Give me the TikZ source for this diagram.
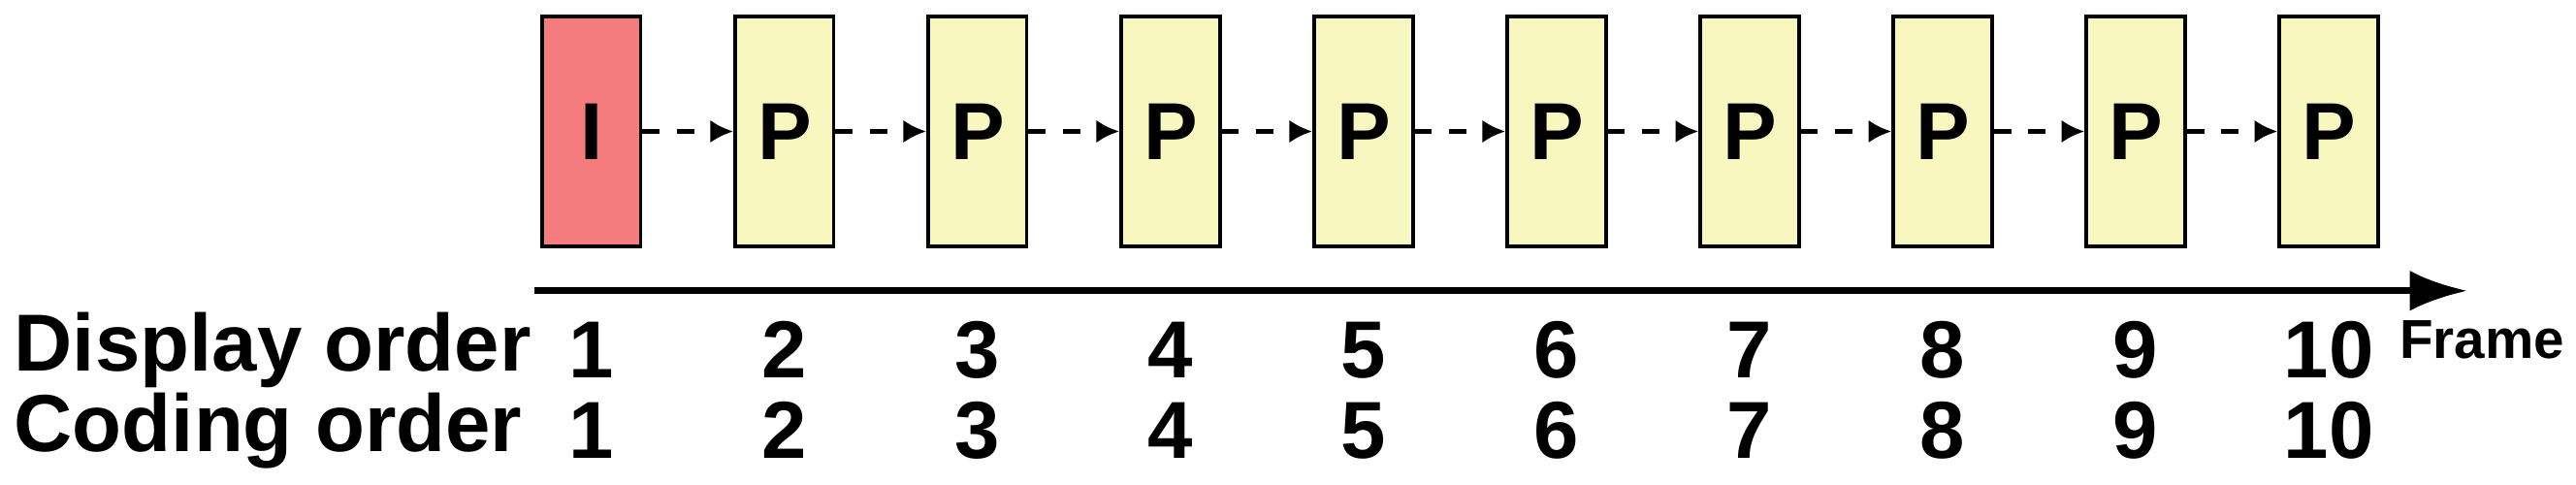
\documentclass[tikz,border=0pt]{standalone}
\usepackage{fontspec}
\setmainfont{Liberation Sans}
\usetikzlibrary{arrows.meta}
\definecolor{iframe}{HTML}{F47C7C}
\definecolor{pframe}{HTML}{F9F7C0}
\tikzset{
  framebox/.style={draw=black, line width=0.6pt, minimum width=0.6cm, minimum height=1.4cm, inner sep=0pt, font=\fontsize{14}{16}\selectfont\bfseries},
  numtext/.style={font=\fontsize{14}{16}\selectfont\bfseries, inner sep=0pt},
  predarrow/.style={-{Latex[length=4pt,width=4pt]}, dashed, line width=0.9pt}
}
\begin{document}
\begin{tikzpicture}[x=0.01cm, y=-0.01cm]
    \useasboundingbox (0,0) rectangle (1568,295);

    % frames
    \node [framebox, fill=iframe] (F1) at (360, 80) {I};
    \foreach \i in {2,...,10} {
        \node [framebox, fill=pframe] (F\i) at ({360+117.5*(\i-1)}, 80) {P};
    }
    \foreach \i [evaluate=\i as \j using int(\i+1)] in {1,...,9} {
        \draw [predarrow] (F\i.east) -- (F\j.west);
    }

    % time axis
    \coordinate (T0) at (325, 177);
    \coordinate (T1) at (1502, 177);
    \draw [-{Latex[length=10pt,width=7pt]}, line width=1.2pt] (T0) -- (T1);

    % orders
    \node [numtext, anchor=west] (DL) at (8, 213) {Display order};
    \node [numtext, anchor=west] (CL) at (8, 262) {Coding order};
    \foreach \i in {1,...,10} {
        \node [numtext] (D\i) at ({360+117.5*(\i-1)}, 213) {\i};
        \node [numtext] (C\i) at ({360+117.5*(\i-1)}, 262) {\i};
    }
    \node [font=\fontsize{9.5}{11}\selectfont\bfseries, anchor=west, inner sep=0pt] (FR) at (1460, 207) {Frame};
\end{tikzpicture}
\end{document}
